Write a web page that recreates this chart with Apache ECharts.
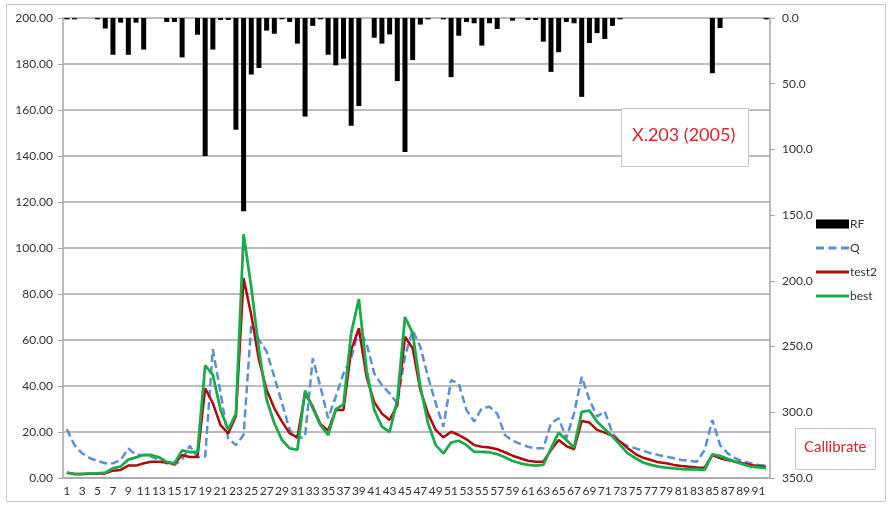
<!DOCTYPE html>
<html>
<head>
<meta charset="utf-8">
<script src="https://cdn.jsdelivr.net/npm/echarts@6/dist/echarts.min.js"></script>
<style>html,body{margin:0;padding:0;background:#fff}#c{width:888px;height:509px}</style>
</head>
<body>
<div id="c"></div>
<script>
var categories = [];
for (var i = 1; i <= 92; i++) categories.push(String(i));

var rf = [1,1,0,0,1,8,28,3.5,28,3.5,
  24,0,0,3,3,30,0,12.7,105,24,
  1.5,1.5,85,147,43,38,9.6,12,1,3,
  19.5,75,6,1,28,36,31,82,67,0,
  15,19.5,12.5,48,102,32,5,1,0,1,
  45,13.5,3,4,21,4,8.4,0,2,0,
  1.5,1.5,18,41,26,3,4,60,19,11.5,
  16,6,1,0,0,0,0,0,0,0,
  0,0,0,0,42,7.6,0,0,0,0,
  0,1];

var q = [21.2,14.3,10.7,8.6,7.4,6.4,6.4,7.8,12.9,10,
  10,9.3,7.8,6.4,5.7,8,14,9,9.3,56,
  37,17.2,14.3,18.7,67,60,55,44,32.5,20.9,
  17.2,18,52,39.7,26,35.4,45.5,52,65,58.5,
  45.5,40.4,36.8,32.5,52.8,64.3,57,44,32.5,22.3,
  42.6,41,29.6,24.5,30.3,31,28,18.7,16.2,14.8,
  13.6,12.9,12.9,23.8,26,17.2,28,44,34,26.7,
  29,19.4,15.8,13.9,12.9,11.9,10.7,10,9.3,8.6,
  7.8,7.5,7.1,12.2,25.2,14.3,10.7,8.6,7.1,6.4,
  5.7,5.5];

var test2 = [2.3,1.7,1.7,1.9,1.9,2,3.2,3.5,5.4,5.4,
  6.4,7.1,7.1,6.7,6.1,10,9.1,9.1,39,32.5,
  23,19.4,27,86.8,70.9,51.3,38.3,30.3,24.5,19.4,
  17.7,36.8,31,23.5,20.6,29.6,29.6,55.7,65,44,
  33,28,25.2,31.7,61.4,56.4,38.3,28,20.9,17.7,
  20.1,18.7,16.8,14.3,13.6,13.3,12.5,11.2,9.7,8.6,
  7.5,7.1,7.1,12.2,16.5,13.9,12.5,24.8,24.1,20.9,
  19.7,18.3,15.8,12.9,10.4,8.8,7.8,6.8,6.4,5.7,
  5.2,4.9,4.6,4.5,10,8.6,7.8,7.1,6.4,5.7,
  5.2,4.9];

var best = [2.3,1.7,1.7,2,2,2.3,4.2,5,8,9,
  10,10,9,7,6.4,12,11.3,11.3,49,44.8,
  29.6,21,28,106,83,55.6,34,23.8,16.5,12.9,
  12.2,38,30.3,23,18.7,29.9,32,63,77.8,47,
  29.6,22.3,20,34,70,63,39.7,23.8,14.3,10.7,
  15.4,16.2,14.3,11.4,11.4,11.2,10.4,9,7.4,6.4,
  5.7,5.4,5.7,12.9,19.7,16.5,13.3,28.8,29.3,24.5,
  21.2,18,14.3,10.7,8.6,6.7,5.7,4.9,4.5,4.2,
  3.9,3.8,3.8,3.5,10.3,9.6,8.3,7.1,5.9,4.9,
  4.6,4.3];

var leftTicks = {min: 0, max: 200, interval: 20};
var rightTicks = {min: 0, max: 350, interval: 50};

var FONT = 'Lato';
var LINE_ICON = 'path://M0,0h33v3h-33z';
var DASH_ICON = 'path://M0,0h8v3h-8z M12.5,0h8v3h-8z M25,0h8v3h-8z';
var chart = echarts.init(document.getElementById('c'), null, {renderer: 'canvas'});
chart.setOption({
  animation: false,
  backgroundColor: '#fff',
  textStyle: {fontFamily: FONT},
  grid: {left: 63, right: 118, top: 18, bottom: 31, containLabel: false},
  legend: {
    orient: 'vertical', left: 811, top: 213,
    itemWidth: 33, itemHeight: 9, itemGap: 12,
    textStyle: {fontFamily: FONT, fontSize: 12, color: '#333', padding: [0, 0, 0, -4]},
    data: [
      {name: 'RF', icon: 'rect'},
      {name: 'Q', icon: DASH_ICON},
      {name: 'test2', icon: LINE_ICON},
      {name: 'best', icon: LINE_ICON}
    ]
  },
  xAxis: {
    type: 'category', data: categories, boundaryGap: true,
    axisLine: {lineStyle: {color: '#a6a6a6', width: 1.5}},
    axisTick: {interval: 0, length: 4, lineStyle: {color: '#a6a6a6'}},
    axisLabel: {interval: 1, fontSize: 12, color: '#333', margin: 7, fontFamily: FONT},
    splitLine: {show: false}
  },
  yAxis: [
    {
      type: 'value', min: leftTicks.min, max: leftTicks.max, interval: leftTicks.interval,
      axisLine: {show: true, lineStyle: {color: '#a6a6a6', width: 1.5}},
      axisTick: {show: true, length: 5, lineStyle: {color: '#a6a6a6'}},
      axisLabel: {fontSize: 12, color: '#333', margin: 10, fontFamily: FONT,
        formatter: function (v) { return v.toFixed(2); }},
      splitLine: {show: true, lineStyle: {color: '#a6a6a6', width: 1.5}}
    },
    {
      type: 'value', inverse: true, position: 'right',
      min: rightTicks.min, max: rightTicks.max, interval: rightTicks.interval,
      axisLine: {show: true, lineStyle: {color: '#a6a6a6', width: 1.5}},
      axisTick: {show: true, length: 5, lineStyle: {color: '#a6a6a6'}},
      axisLabel: {fontSize: 12, color: '#333', margin: 12, fontFamily: FONT,
        formatter: function (v) { return v.toFixed(1); }},
      splitLine: {show: false}
    }
  ],
  series: [
    {name: 'RF', type: 'bar', yAxisIndex: 1, data: rf, barWidth: 5,
      itemStyle: {color: '#000'}},
    {name: 'Q', type: 'line', yAxisIndex: 0, data: q, symbol: 'none',
      lineStyle: {color: '#5b8fd2', width: 2.5, type: [8, 4]}, itemStyle: {color: '#5b8fd2'}},
    {name: 'test2', type: 'line', yAxisIndex: 0, data: test2, symbol: 'none',
      lineStyle: {color: '#b00a0a', width: 2.5}, itemStyle: {color: '#b00a0a'}},
    {name: 'best', type: 'line', yAxisIndex: 0, data: best, symbol: 'none',
      lineStyle: {color: '#1daa4c', width: 2.8}, itemStyle: {color: '#1daa4c'}}
  ],
  graphic: [
    {type: 'rect', left: 4, top: 2, shape: {width: 879, height: 497},
      style: {fill: null, stroke: '#c8c8c8', lineWidth: 1}, silent: true},
    {type: 'rect', left: 621, top: 108, z: 100,
      shape: {width: 127, height: 58},
      style: {fill: '#fff', stroke: '#c8c8c8', lineWidth: 1}},
    {type: 'text', left: 632, top: 126, z: 101,
      style: {text: 'X.203 (2005)', fill: '#d4282f', font: '18px Lato'}},
    {type: 'rect', left: 795, top: 428, z: 100,
      shape: {width: 80, height: 41},
      style: {fill: '#fff', stroke: '#c8c8c8', lineWidth: 1}},
    {type: 'text', left: 804, top: 440, z: 101,
      style: {text: 'Callibrate', fill: '#d4282f', font: '15px Lato'}}
  ]
});
</script>
</body>
</html>
